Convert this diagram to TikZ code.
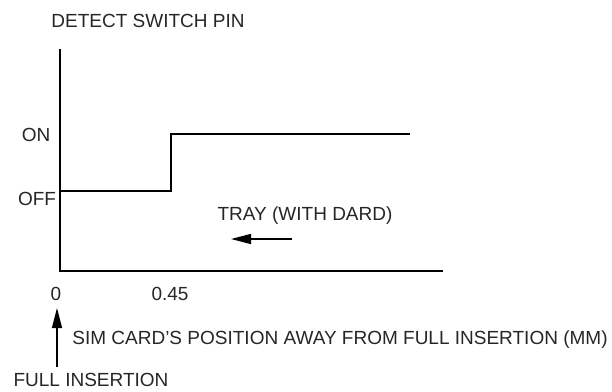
\documentclass[tikz,border=0pt]{standalone}
\usepackage{fontspec}
\setmainfont{Liberation Sans}
\usetikzlibrary{arrows.meta}
\begin{document}
\begin{tikzpicture}[x=1pt,y=-1pt,
  lbl/.style={inner sep=0pt, font=\fontsize{19}{19}\selectfont, text=black!85},
  axis/.style={line width=1.8pt, line cap=rect},
  sig/.style={line width=1.6pt},
  ptr/.style={line width=1.4pt, -{Triangle[length=20pt,width=10pt]}}]
\useasboundingbox (0,0) rectangle (612,391);
% axes
\coordinate (top) at (60,50);
\coordinate (orig) at (60,271);
\coordinate (xend) at (442,271);
\draw[axis] (top) -- (orig) -- (xend);
% signal
\coordinate (s0) at (60,191);
\coordinate (s1) at (171,191);
\coordinate (s2) at (171,134);
\coordinate (s3) at (410,134);
\draw[sig] (s0) -- (s1) -- (s2) -- (s3);
% labels
\node[lbl, anchor=base] (title) at (148,27) {DETECT SWITCH PIN};
\node[lbl, anchor=base] (on) at (36,141) {ON};
\node[lbl, anchor=base] (off) at (37,205) {OFF};
\node[lbl, anchor=base] (tray) at (305,220) {TRAY (WITH DARD)};
\coordinate (ta) at (292,239);
\coordinate (tb) at (231,239);
\draw[ptr] (ta) -- (tb);
\node[lbl, anchor=base] (zero) at (56,300) {0};
\node[lbl, anchor=base] (x45) at (170,300) {0.45};
\node[lbl, anchor=base] (sim) at (340,344) {SIM CARD'S POSITION AWAY FROM FULL INSERTION (MM)};
\node[lbl, anchor=base] (full) at (91,386) {FULL INSERTION};
\coordinate (fa) at (57,367);
\coordinate (fb) at (57,308);
\draw[ptr] (fa) -- (fb);
\end{tikzpicture}
\end{document}
